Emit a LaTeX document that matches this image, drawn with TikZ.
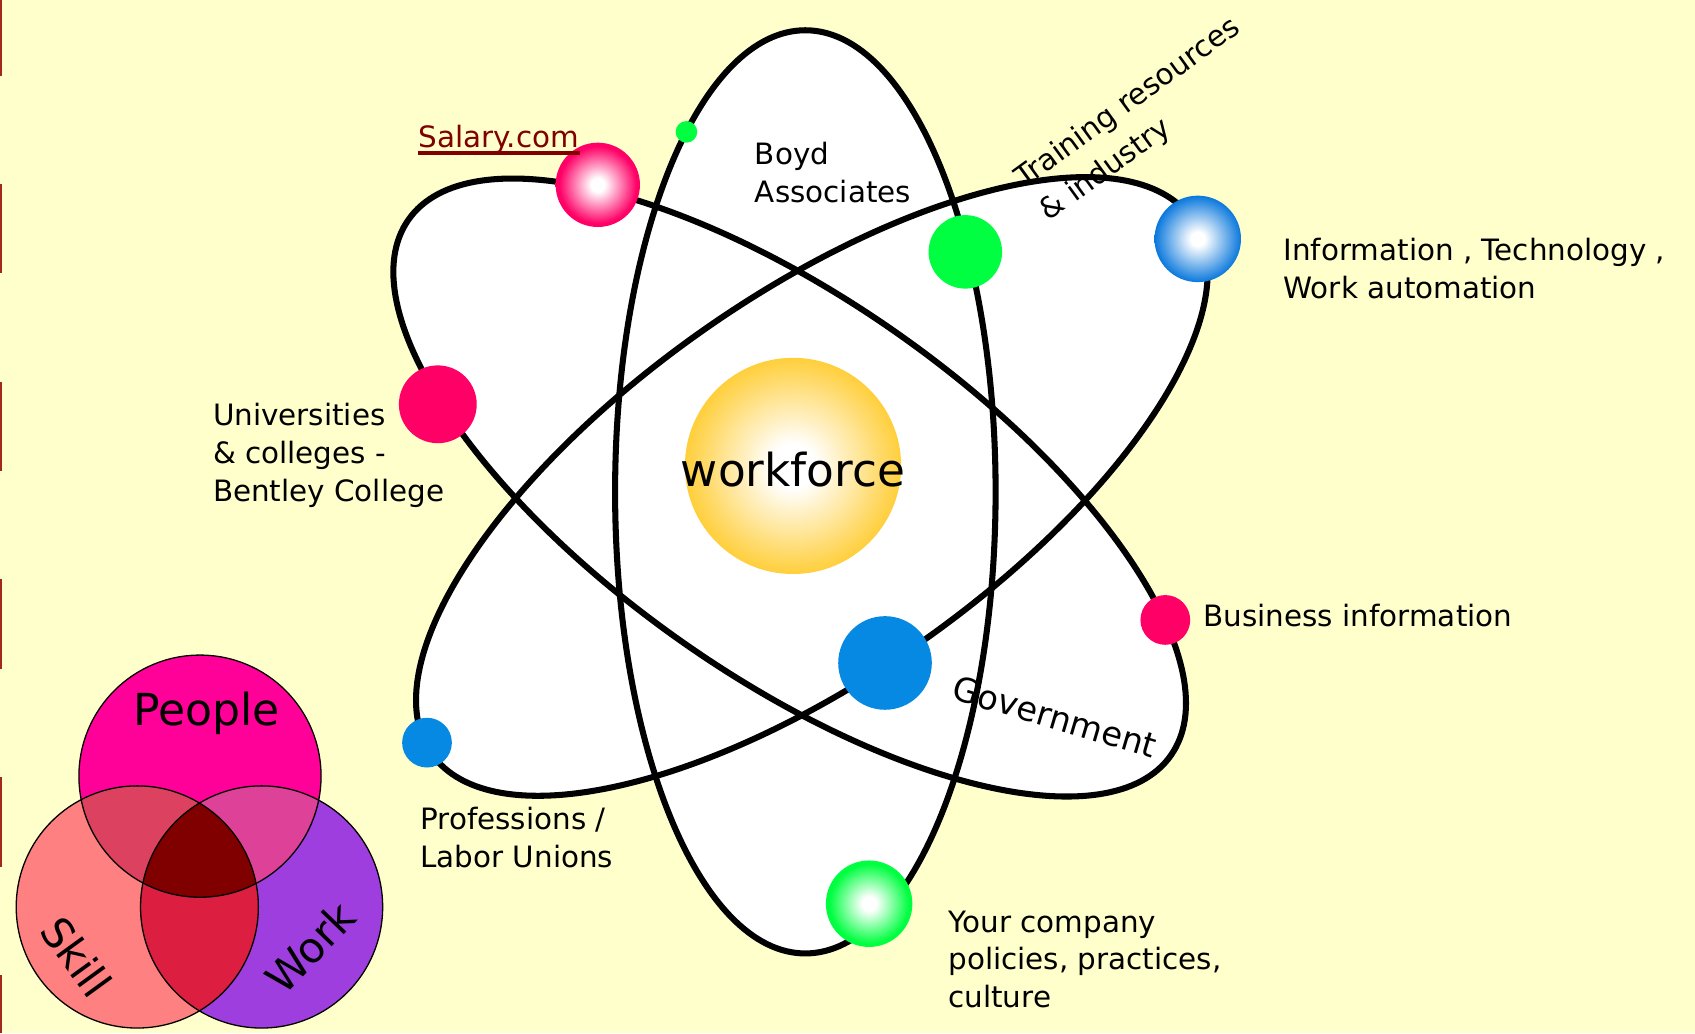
\documentclass[tikz,border=0pt]{standalone}
\usepackage{fontspec}
\setmainfont{DejaVu Sans}
\definecolor{bgyellow}{RGB}{255,255,204}
\definecolor{markred}{RGB}{160,40,30}
\definecolor{ballpink}{RGB}{255,0,102}
\definecolor{ballgreen}{RGB}{0,255,64}
\definecolor{ballblue}{RGB}{5,137,227}
\definecolor{gradblue}{RGB}{10,120,220}
\definecolor{sunorange}{RGB}{255,192,0}
\definecolor{salred}{RGB}{128,0,0}
\definecolor{vpeople}{RGB}{255,0,153}
\definecolor{vskill}{RGB}{255,128,128}
\definecolor{vwork}{RGB}{158,62,222}
\definecolor{vps}{RGB}{220,66,96}
\definecolor{vpw}{RGB}{222,66,152}
\definecolor{vsw}{RGB}{220,30,64}
\definecolor{vall}{RGB}{128,0,0}
\pgfdeclareradialshading{shpink}{\pgfpoint{0bp}{0bp}}{color(0bp)=(white); color(4bp)=(white); color(23bp)=(ballpink); color(50bp)=(ballpink)}
\pgfdeclareradialshading{shblue}{\pgfpoint{0bp}{0bp}}{color(0bp)=(white); color(4bp)=(white); color(25bp)=(gradblue); color(50bp)=(gradblue)}
\pgfdeclareradialshading{shgreen}{\pgfpoint{0bp}{0bp}}{color(0bp)=(white); color(4bp)=(white); color(23bp)=(ballgreen); color(50bp)=(ballgreen)}
\pgfdeclareradialshading{shsun}{\pgfpoint{0bp}{0bp}}{color(0bp)=(white); color(5bp)=(white); color(31bp)=(sunorange); color(50bp)=(sunorange)}
\begin{document}
\begin{tikzpicture}[x=0.5pt,y=-0.5pt,
  orbit/.style={line width=2.8pt, draw=black},
  ball/.style={circle, inner sep=0pt, outer sep=0pt, draw=none},
  lbl/.style={font=\fontsize{13.6}{17.5}\selectfont, align=left, inner sep=0pt, text=black},
  vline/.style={draw=black, line width=0.6pt},
  vtext/.style={font=\fontsize{20}{24}\selectfont, inner sep=0pt, text=black}]
\useasboundingbox (0,0) rectangle (1568,956);
\fill[bgyellow] (0,0) rectangle (1568,956);
% left edge marks
\fill[markred] (0,0) rectangle (1.8,70);
\fill[markred] (0,170) rectangle (1.8,253);
\fill[markred] (0,353) rectangle (1.8,436);
\fill[markred] (0,536) rectangle (1.8,619);
\fill[markred] (0,719) rectangle (1.8,802);
\fill[markred] (0,902) rectangle (1.8,956);
% orbits
\fill[white] (745,455) ellipse [x radius=176, y radius=427];
\fill[white] (730.5,451) ellipse [x radius=431, y radius=174, rotate=-35.1];
\fill[white] (751,450) ellipse [x radius=430, y radius=176, rotate=35.1];
\draw[orbit] (745,455) ellipse [x radius=176, y radius=427];
\draw[orbit] (730.5,451) ellipse [x radius=431, y radius=174, rotate=-35.1];
\draw[orbit] (751,450) ellipse [x radius=430, y radius=176, rotate=35.1];
% balls (minimum size in pt = radius in px)
\node[ball, shading=shsun, minimum size=100pt] (sun) at (733.6,431) {};
\node[ball, shading=shpink, minimum size=39pt] (bsal) at (553,171) {};
\node[ball, fill=ballgreen, minimum size=10pt] (bgsmall) at (635,122) {};
\node[ball, fill=ballgreen, minimum size=34pt] (bgreen) at (893,233) {};
\node[ball, shading=shblue, minimum size=40pt] (binfo) at (1108,221) {};
\node[ball, fill=ballpink, minimum size=36pt] (buni) at (405,374) {};
\node[ball, fill=ballpink, minimum size=23pt] (bbus) at (1078,573.5) {};
\node[ball, fill=ballblue, minimum size=43.3pt] (bgov) at (818.7,613.3) {};
\node[ball, fill=ballblue, minimum size=23pt] (bprof) at (395,687) {};
\node[ball, shading=shgreen, minimum size=40pt] (bcomp) at (804,836) {};
% labels
\node[lbl, anchor=base west, text=salred] (sal) at (387,136) {Salary.com};
\draw[salred, line width=1.5pt] ([yshift=-2.75pt]sal.base west) -- ([yshift=-2.75pt]sal.base east);
\node[lbl, anchor=west] (boyd) at (698,160) {Boyd\\Associates};
\node[lbl, anchor=center, rotate=36, font=\fontsize{13.6}{19}\selectfont] (train) at (1055,111) {Training resources\\\& industry};
\node[lbl, anchor=west] (info) at (1187,248.8) {Information , Technology ,\\Work automation};
\node[lbl, anchor=west] (uni) at (196.7,421.3) {Universities\\\& colleges -\\Bentley College};
\node[lbl, anchor=base west] (bus) at (1113,579.7) {Business information};
\node[lbl, anchor=center, rotate=-16.5, font=\fontsize{15.6}{18}\selectfont] (gov) at (976,663) {Government};
\node[lbl, anchor=west] (prof) at (388.6,775) {Professions /\\Labor Unions};
\node[lbl, anchor=west] (comp) at (877,887.5) {Your company\\policies, practices,\\culture};
\node[inner sep=0pt, anchor=base, font=\fontsize{21}{25}\selectfont] (wf) at (733.6,450.5) {workforce};
% Venn diagram
\coordinate (vp) at (185,718);
\coordinate (vs) at (127,839);
\coordinate (vw) at (242,839);
\fill[vpeople] (vp) circle [radius=112];
\fill[vskill] (vs) circle [radius=112];
\fill[vwork] (vw) circle [radius=112];
\begin{scope}
  \clip (vp) circle [radius=112];
  \fill[vps] (vs) circle [radius=112];
  \fill[vpw] (vw) circle [radius=112];
\end{scope}
\begin{scope}
  \clip (vs) circle [radius=112];
  \fill[vsw] (vw) circle [radius=112];
  \clip (vw) circle [radius=112];
  \fill[vall] (vp) circle [radius=112];
\end{scope}
\draw[vline] (vp) circle [radius=112];
\draw[vline] (vs) circle [radius=112];
\draw[vline] (vw) circle [radius=112];
\node[vtext, font=\fontsize{20.4}{24}\selectfont] (people) at (191,660) {People};
\node[vtext, rotate=-54, font=\fontsize{19.5}{23}\selectfont] (skill) at (71,885) {Skill};
\node[vtext, rotate=46, font=\fontsize{19.5}{23}\selectfont] (work) at (287,876) {Work};
\end{tikzpicture}
\end{document}
